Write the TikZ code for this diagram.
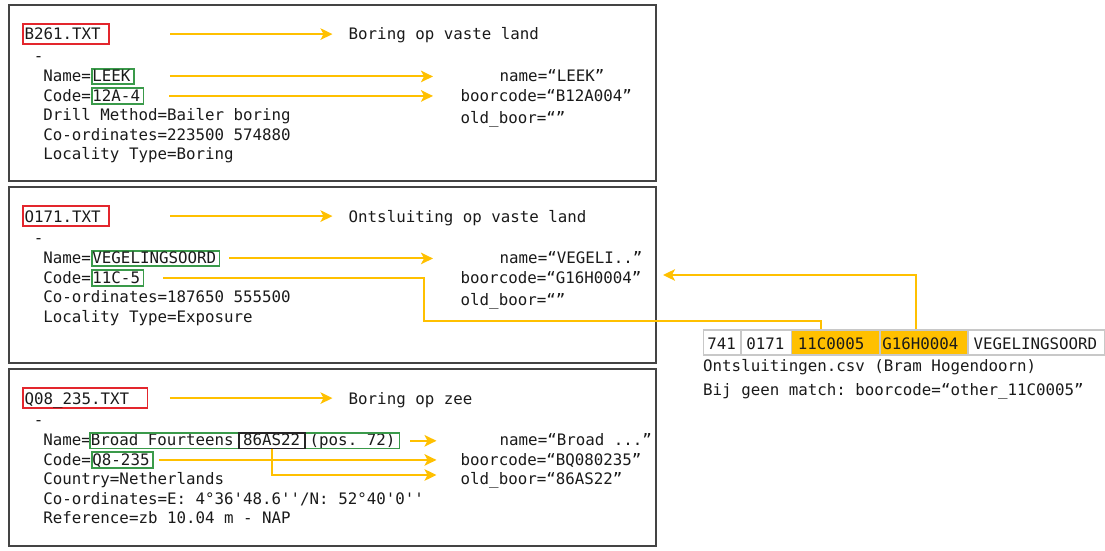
\documentclass[tikz,border=0pt]{standalone}
\usepackage{fontspec}
\setmonofont{DejaVu Sans Mono}
\usetikzlibrary{arrows.meta,fit}
\definecolor{framec}{HTML}{444444}
\definecolor{goldc}{HTML}{FFC000}
\definecolor{redc}{HTML}{E3262D}
\definecolor{grnc}{HTML}{3A9A4A}
\definecolor{txtc}{HTML}{1A1A1A}
\definecolor{cellb}{HTML}{C8C8C8}
\newcommand\myfnt{\ttfamily\fontsize{15.8}{19.5}\selectfont}
\begin{document}
\begin{tikzpicture}[x=1pt,y=-1pt,
 every node/.style={font=\myfnt, text=txtc},
 lbl/.style={anchor=base west, inner sep=0pt},
 panel/.style={draw=framec, line width=2pt, anchor=north west, inner sep=0pt},
 fname/.style={draw=redc, line width=1.8pt, anchor=base west, inner xsep=1.3pt, inner ysep=0pt, text height=15.7pt, text depth=3.9pt},
 gbox/.style={draw=grnc, line width=1.8pt, anchor=base west, inner xsep=0.4pt, inner ysep=0pt, text height=12.8pt, text depth=2.7pt},
 gfit/.style={draw=grnc, line width=1.8pt, inner xsep=0.4pt, inner ysep=0pt},
 bbox/.style={draw=black!85, line width=1.8pt},
 fixh/.style={text height=12.2pt, text depth=2.8pt},
 arr/.style={draw=goldc, line width=2pt, -{Stealth[length=12pt,width=11.5pt,inset=3pt]}},
 link/.style={draw=goldc, line width=2pt},
 cell/.style={draw=cellb, line width=1.6pt, anchor=north west, minimum height=25pt, inner ysep=0pt, text height=14.6pt, text depth=1pt},
 hot/.style={cell, fill=goldc},
]
\useasboundingbox (0,0) rectangle (1105,551);

% panels
\node[panel, minimum width=647pt, minimum height=176pt] (p1) at (8,4) {};
\node[panel, minimum width=647pt, minimum height=176pt] (p2) at (8,186) {};
\node[panel, minimum width=647pt, minimum height=177pt] (p3) at (8,368) {};

% ---------- panel 1
\node[fname] (fn1) at (22.3,40) {\makebox[83.4pt][l]{B261.TXT}};
\node[lbl] (h1) at (348.5,40) {Boring op vaste land};
\node[lbl] (d1) at (33.7,61.5) {-};
\node[lbl] (n1) at (43.2,81.5) {Name=};
\node[gbox] (g1n) at (n1.base east) {LEEK\kern3pt};
\node[lbl] (c1) at (43.2,101) {Code=};
\node[gbox] (g1c) at (c1.base east) {12A-4\kern3pt};
\node[lbl] (l1a) at (43.2,120.5) {Drill Method=Bailer boring};
\node[lbl] (l1b) at (43.2,140) {Co-ordinates=223500 574880};
\node[lbl] (l1c) at (43.2,159.5) {Locality Type=Boring};
\node[lbl] (r1n) at (499.5,81.5) {name=“LEEK”};
\node[lbl] (r1c) at (460.5,101) {boorcode=“B12A004”};
\node[lbl] (r1o) at (460.5,123) {old\_boor=“”};

% ---------- panel 2
\node[fname] (fn2) at (22.3,222) {\makebox[83.4pt][l]{O171.TXT}};
\node[lbl] (h2) at (348.5,222) {Ontsluiting op vaste land};
\node[lbl] (d2) at (33.7,243.5) {-};
\node[lbl] (n2) at (43.2,263.5) {Name=};
\node[gbox] (g2n) at (n2.base east) {VEGELINGSOORD\kern3pt};
\node[lbl] (c2) at (43.2,283) {Code=};
\node[gbox] (g2c) at (c2.base east) {11C-5\kern3pt};
\node[lbl] (l2a) at (43.2,302.5) {Co-ordinates=187650 555500};
\node[lbl] (l2b) at (43.2,322) {Locality Type=Exposure};
\node[lbl] (r2n) at (499.5,263.5) {name=“VEGELI..”};
\node[lbl] (r2c) at (460.5,283) {boorcode=“G16H0004”};
\node[lbl] (r2o) at (460.5,305.5) {old\_boor=“”};

% ---------- panel 3
\node[fname] (fn3) at (22.3,404) {\makebox[121.6pt][l]{Q08\_235.TXT}};
\node[lbl] (h3) at (348.5,404) {Boring op zee};
\node[lbl] (d3) at (33.7,425.5) {-};
\node[lbl] (n3) at (43.2,445.5) {Name=};
\node[lbl, fixh] (bf) at (90.7,445.5) {Broad Fourteens};
\node[anchor=base west, inner xsep=4.3pt, inner ysep=0pt, fixh] (bx) at (238.6,445.5) {86AS22};
\node[lbl, fixh] (pp) at (309.5,445.5) {(pos. 72)\kern3.5pt};
\node[gfit, fit=(bf)(bx)(pp)] (g3n) {};
\draw[bbox] (bx.south west) rectangle (bx.north east);
\node[lbl] (c3) at (43.2,465) {Code=};
\node[gbox] (g3c) at (c3.base east) {Q8-235\kern3pt};
\node[lbl] (l3a) at (43.2,484.5) {Country=Netherlands};
\node[lbl] (l3b) at (43.2,504) {Co-ordinates=E: 4°36'48.6''/N: 52°40'0''};
\node[lbl] (l3c) at (43.2,523.5) {Reference=zb 10.04 m - NAP};
\node[lbl] (r3n) at (499.5,445.5) {name=“Broad ...”};
\node[lbl] (r3c) at (460.5,465) {boorcode=“BQ080235”};
\node[lbl] (r3o) at (460.5,484.5) {old\_boor=“86AS22”};

% ---------- table
\node[cell, minimum width=37.3pt, inner xsep=3.8pt] (t1) at (702.7,329) {\makebox[29.7pt][l]{741}};
\node[cell, minimum width=50.7pt, inner xsep=5.5pt] (t2) at (740,329) {\makebox[39.7pt][l]{0171}};
\node[hot, minimum width=88.6pt, inner xsep=6.3pt] (t3) at (790.7,329) {\makebox[76pt][l]{11C0005}};
\node[hot, minimum width=88pt, inner xsep=2.2pt] (t4) at (879.3,329) {\makebox[83.6pt][l]{G16H0004}};
\node[cell, minimum width=137pt, inner xsep=5.4pt] (t5) at (967.3,329) {\makebox[126.2pt][l]{VEGELINGSOORD}};
\node[lbl] (src) at (703,371) {Ontsluitingen.csv (Bram Hogendoorn)};
\node[lbl] (nom) at (703,395) {Bij geen match: boorcode=“other\_11C0005”};

% ---------- connectors
\coordinate (k2) at (424,320.5);
\coordinate (k3) at (663,275);
\coordinate (k4) at (436.5,475);

\draw[arr] ([xshift=60pt]fn1.east) -- ([xshift=-16pt]h1.west |- fn1.east);
\draw[arr] ([xshift=35pt]g1n.east) -- ([xshift=-66.5pt]r1n.west |- g1n.east);
\draw[arr] ([xshift=25pt]g1c.east) -- ([xshift=-27.5pt]r1c.west |- g1c.east);

\draw[arr] ([xshift=60pt]fn2.east) -- ([xshift=-16pt]h2.west |- fn2.east);
\draw[arr] ([xshift=9pt]g2n.east) -- ([xshift=-66.5pt]r2n.west |- g2n.east);
\draw[link] ([xshift=19pt]g2c.east) -| (k2) -| ([xshift=-14.5pt]t3.north);
\draw[arr] ([xshift=-8.3pt]t4.north) |- (k3);

\draw[arr] ([xshift=21.5pt]fn3.east) -- ([xshift=-16pt]h3.west |- fn3.east);
\draw[arr] ([xshift=10pt]g3n.east) -- ([xshift=-63pt]r3n.west |- g3n.east);
\draw[arr] ([xshift=5pt]g3c.east) -- ([xshift=-24pt]r3c.west |- g3c.east);
\draw[arr] (bx.south) |- (k4);
\end{tikzpicture}
\end{document}
